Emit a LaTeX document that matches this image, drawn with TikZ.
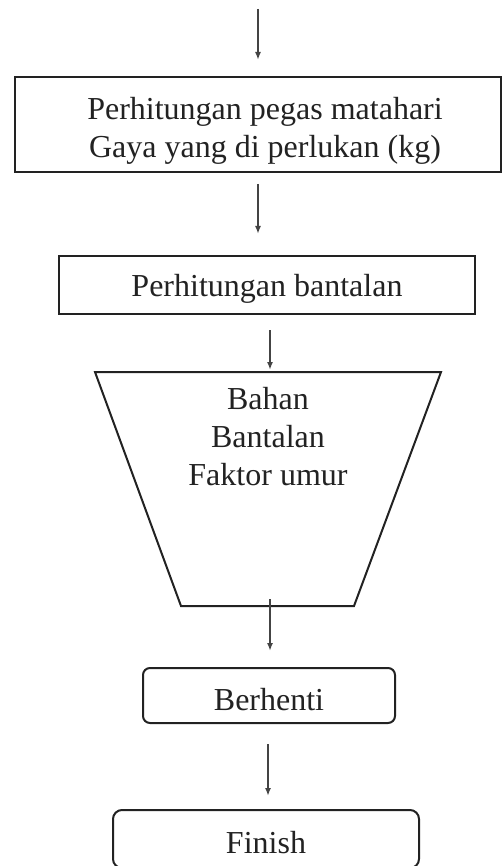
\documentclass[tikz,border=0pt]{standalone}
\usepackage{fontspec}
\setmainfont{Liberation Serif}
\usetikzlibrary{arrows.meta}
\definecolor{ink}{HTML}{222222}
\definecolor{arrowink}{HTML}{444444}
\begin{document}
\begin{tikzpicture}[x=1pt,y=-1pt,
  box/.style={draw=ink,line width=2pt,fill=white,inner sep=0pt},
  rbox/.style={box,rounded corners=7pt},
  lbl/.style={text=ink,font=\fontsize{32}{38}\selectfont,align=center,inner sep=0pt},
  arr/.style={draw=arrowink,line width=2pt,-{Latex[length=8pt,width=6pt]}}]
\useasboundingbox (0,0) rectangle (502,866);
% boxes
\node[box,minimum width=486pt,minimum height=95pt] (b1) at (258,124.5) {};
\node[lbl] (t1) at (265,130.5) {Perhitungan pegas matahari\\Gaya yang di perlukan (kg)};
\node[box,minimum width=416pt,minimum height=58pt,lbl,text height=26pt,text depth=3pt] (b2) at (267,285) {Perhitungan bantalan};
% trapezoid
\coordinate (trtop) at (268,372);
\coordinate (trbot) at (270,606);
\draw[draw=ink,line width=2pt] (95,372) -- (441,372) -- (354,606) -- (181,606) -- cycle;
\node[lbl] (t3) at (268,437) {Bahan\\Bantalan\\Faktor umur};
\node[rbox,minimum width=252pt,minimum height=55pt,lbl,text height=30pt,text depth=1pt] (b4) at (269,695.5) {Berhenti};
\node[rbox,rounded corners=9pt,minimum width=306pt,minimum height=58pt,lbl,text height=30pt,text depth=1pt] (b5) at (266,839) {Finish};
% connectors
\coordinate (start) at (258,9);
\draw[arr,shorten >=16pt] (start) -- (start |- b1.north);
\draw[arr,shorten <=11pt,shorten >=21pt] (b1.south) -- (b1.south |- b2.north);
\draw[arr,shorten <=15pt,shorten >=2pt] ([xshift=3pt]b2.south) -- ([xshift=3pt]b2.south |- trtop);
\draw[arr,shorten <=-7pt,shorten >=16pt] (trbot) -- (trbot |- b4.north);
\draw[arr,shorten <=20pt,shorten >=13pt] ([xshift=-1pt]b4.south) -- ([xshift=-1pt]b4.south |- b5.north);
\end{tikzpicture}
\end{document}
